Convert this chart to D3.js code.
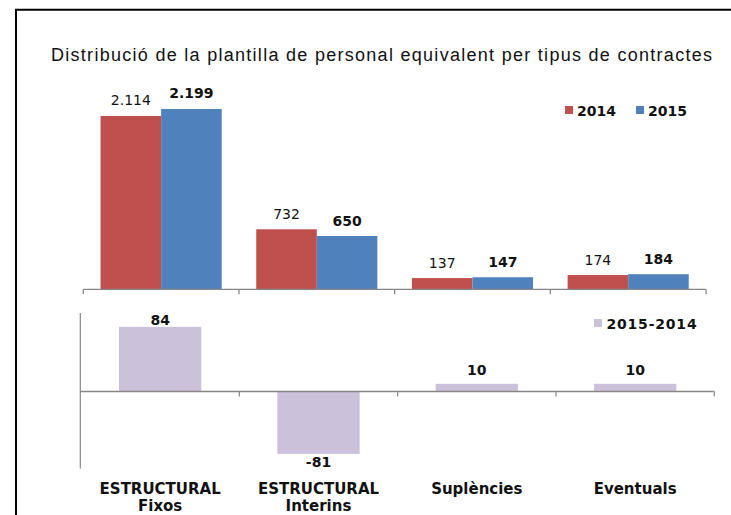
<!DOCTYPE html>
<html><head><meta charset="utf-8">
<script src="https://cdn.jsdelivr.net/npm/d3@7"></script>
<style>body{margin:0;background:#fff} svg{display:block}</style>
</head><body>
<svg id="c" width="731" height="515"></svg>
<script>
// ---- data ----
const chartTitle = "Distribució de la plantilla de personal equivalent per tipus de contractes";
const categories = ["ESTRUCTURAL Fixos", "ESTRUCTURAL Interins", "Suplències", "Eventuals"];
const categoryLines = [["ESTRUCTURAL", "Fixos"], ["ESTRUCTURAL", "Interins"], ["Suplències"], ["Eventuals"]];
const seriesNames = ["2014", "2015"];
const values2014 = [2114, 732, 137, 174];
const values2015 = [2199, 650, 147, 184];
const diffName = "2015-2014";
const diffValues = [84, -81, 10, 10];

// ---- styles ----
const colors = {"2014": "#C0504D", "2015": "#4F81BD"};
const diffColor = "#CCC1DA";
const axisColor = "#868686";
const labelFont = "'DejaVu Sans', Verdana, sans-serif";

const loc = d3.formatLocale({decimal: ",", thousands: ".", grouping: [3], currency: ["", "€"]});
const fmt = loc.format(",");

const svg = d3.select("#c");

// frame
svg.append("rect").attr("x", 16).attr("y", 9.75).attr("width", 800).attr("height", 600)
  .attr("fill", "none").attr("stroke", "#000").attr("stroke-width", 2);

// title
svg.append("text").attr("x", 51).attr("y", 60.5)
  .attr("font-family", "'Liberation Sans', Arial, sans-serif").attr("font-size", 18)
  .attr("fill", "#111").attr("textLength", 661).attr("lengthAdjust", "spacing")
  .text(chartTitle);

// ---- top chart ----
const x0 = d3.scaleBand(categories, [83.3, 706]).paddingInner(0.222).paddingOuter(0.111);
const xTick = d3.scaleBand(categories, [83.3, 706]);
const x1 = d3.scaleBand(seriesNames, [0, x0.bandwidth()]);
const yTop = d3.scaleLinear([0, 2500], [289.3, 84.3]);

const data = categories.map((c, i) => ({cat: c, vals: [
  {s: "2014", v: values2014[i]}, {s: "2015", v: values2015[i]}]}));

const g = svg.append("g").selectAll("g").data(data).join("g")
  .attr("transform", d => `translate(${x0(d.cat)},0)`);
g.selectAll("rect").data(d => d.vals).join("rect")
  .attr("x", d => x1(d.s)).attr("width", x1.bandwidth())
  .attr("y", d => yTop(d.v)).attr("height", d => yTop(0) - yTop(d.v))
  .attr("fill", d => colors[d.s]);
g.selectAll("text").data(d => d.vals).join("text")
  .attr("x", d => x1(d.s) + x1.bandwidth() / 2)
  .attr("y", d => yTop(d.v) - 10.5)
  .attr("text-anchor", "middle")
  .attr("font-family", labelFont).attr("font-size", 14)
  .attr("font-weight", d => d.s === "2015" ? "bold" : "normal")
  .attr("fill", "#111")
  .text(d => fmt(d.v));

// top axis
const topAxis = svg.append("g").attr("stroke", axisColor).attr("stroke-width", 1.3);
topAxis.append("line").attr("x1", xTick.range()[0]).attr("x2", xTick.range()[1])
  .attr("y1", yTop(0)).attr("y2", yTop(0));
const topTicks = categories.map(c => xTick(c)).concat([xTick.range()[1]]);
topAxis.selectAll("line.t").data(topTicks).join("line").attr("class", "t")
  .attr("x1", d => d).attr("x2", d => d).attr("y1", yTop(0)).attr("y2", yTop(0) + 5);

// top legend
const legTop = svg.append("g");
seriesNames.forEach((s, i) => {
  const lx = 565 + i * 71;
  legTop.append("rect").attr("x", lx).attr("y", 106).attr("width", 8).attr("height", 8).attr("fill", colors[s]);
  legTop.append("text").attr("x", lx + 12).attr("y", 115.5)
    .attr("font-family", labelFont).attr("font-size", 14).attr("font-weight", "bold")
    .attr("fill", "#111").text(s);
});

// ---- bottom chart ----
const xB = d3.scaleBand(categories, [81, 714.3]).paddingInner(0.48).paddingOuter(0.24);
const xBTick = d3.scaleBand(categories, [81, 714.3]);
const yB = d3.scaleLinear([-100, 100], [468.5, 314.5]);

const dData = categories.map((c, i) => ({cat: c, v: diffValues[i]}));
svg.append("g").selectAll("rect").data(dData).join("rect")
  .attr("x", d => xB(d.cat)).attr("width", xB.bandwidth())
  .attr("y", d => yB(Math.max(0, d.v)))
  .attr("height", d => Math.abs(yB(d.v) - yB(0)))
  .attr("fill", diffColor);

svg.append("g").selectAll("text").data(dData).join("text")
  .attr("x", d => xB(d.cat) + xB.bandwidth() / 2)
  .attr("y", d => d.v >= 0 ? Math.max(yB(d.v) - 9, 325) : yB(d.v) + 13.6)
  .attr("text-anchor", "middle")
  .attr("font-family", labelFont).attr("font-size", 14).attr("font-weight", "bold")
  .attr("fill", "#111").text(d => d.v);

// bottom axes
const bAxis = svg.append("g").attr("stroke", axisColor);
bAxis.append("line").attr("x1", 80.3).attr("x2", 80.3)
  .attr("y1", yB(100) - 1.5).attr("y2", yB(-100)).attr("stroke-width", 1.2);
bAxis.append("line").attr("x1", 80.3).attr("x2", xBTick.range()[1])
  .attr("y1", yB(0)).attr("y2", yB(0)).attr("stroke-width", 1.7);
const bTicks = categories.slice(1).map(c => xBTick(c)).concat([xBTick.range()[1]]);
bAxis.selectAll("line.t").data(bTicks).join("line").attr("class", "t")
  .attr("x1", d => d).attr("x2", d => d).attr("y1", yB(0)).attr("y2", yB(0) + 5).attr("stroke-width", 1.2);

// bottom legend
svg.append("rect").attr("x", 594).attr("y", 319).attr("width", 8).attr("height", 8).attr("fill", diffColor);
svg.append("text").attr("x", 606.5).attr("y", 329)
  .attr("font-family", labelFont).attr("font-size", 14).attr("font-weight", "bold")
  .attr("fill", "#111").attr("letter-spacing", 0.8).text(diffName);

// category labels
const catG = svg.append("g").selectAll("text").data(categories).join("text")
  .attr("text-anchor", "middle")
  .attr("font-family", labelFont).attr("font-size", 15).attr("font-weight", "bold")
  .attr("fill", "#111")
  .attr("x", d => xB(d) + xB.bandwidth() / 2)
  .attr("y", 494);
catG.each(function(d, i) {
  const t = d3.select(this);
  categoryLines[i].forEach((line, j) => {
    t.append("tspan").attr("x", xB(d) + xB.bandwidth() / 2).attr("dy", j === 0 ? 0 : 17).text(line);
  });
});
</script>
</body></html>
